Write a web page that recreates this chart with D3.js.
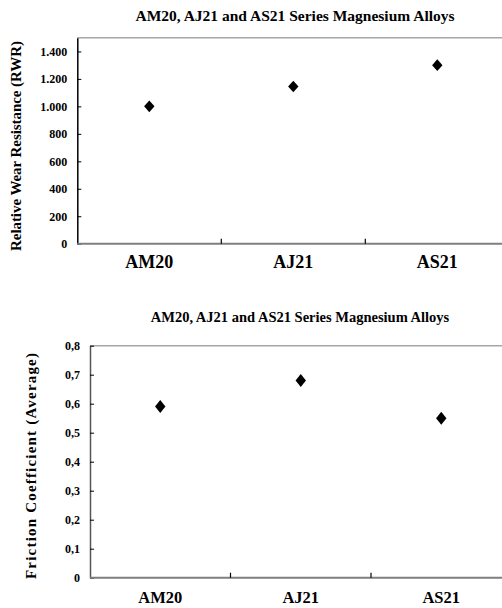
<html lang="en">
<head>
  <meta http-equiv="Content-Type" content="text/html; charset=utf-8" />
  <script src="https://d3js.org/d3.v7.min.js"></script>
  <style>
    body { margin: 0; background: #fff; }
    text { font-family: "Liberation Serif", "Times New Roman", serif; font-weight: bold; fill: #000; }
  </style>
</head>
<body>
  <div id="chart"></div>
  <script>
    'use strict';
    const title = "AM20, AJ21 and AS21 Series Magnesium Alloys";
    const alloys = ["AM20", "AJ21", "AS21"];

    // top chart: relative wear resistance
    const wearValues = [1000, 1145, 1300];
    const wearTicks = [0, 200, 400, 600, 800, 1000, 1200, 1400];
    const wearTickLabels = ["0", "200", "400", "600", "800", "1.000", "1.200", "1.400"];

    // bottom chart: friction coefficient
    const frictionValues = [0.59, 0.68, 0.55];
    const frictionTicks = [0, 0.1, 0.2, 0.3, 0.4, 0.5, 0.6, 0.7, 0.8];
    const frictionTickLabels = ["0", "0,1", "0,2", "0,3", "0,4", "0,5", "0,6", "0,7", "0,8"];

    const svg = d3.select("#chart").append("svg")
      .attr("width", 502).attr("height", 608);

    function drawPanel(cfg) {
      const g = svg.append("g");
      const x = d3.scaleBand().domain(alloys).range([cfg.left, cfg.right]);
      const y = d3.scaleLinear().domain(cfg.domain).range([cfg.bottom, cfg.top]);

      // plot frame top border
      g.append("line").attr("x1", cfg.left).attr("x2", cfg.right)
        .attr("y1", cfg.top).attr("y2", cfg.top)
        .attr("stroke", "#a6a6a6").attr("stroke-width", 1.5);

      // y axis
      const yAxis = g.append("g").attr("transform", `translate(${cfg.left},0)`)
        .call(d3.axisLeft(y).tickValues(cfg.ticks)
          .tickFormat((d, i) => cfg.labels[i]).tickSizeInner(-4).tickSizeOuter(0).tickPadding(10));
      yAxis.select(".domain").attr("stroke", cfg.yAxisColor).attr("stroke-width", 1.5);
      yAxis.selectAll(".tick line").attr("stroke", "#000");
      yAxis.selectAll(".tick text").attr("font-size", cfg.tickFont)
        .attr("font-family", "Liberation Serif").attr("font-weight", "bold").attr("fill", "#000");

      // x axis line + category separators
      g.append("line").attr("x1", cfg.left).attr("x2", cfg.right)
        .attr("y1", cfg.bottom).attr("y2", cfg.bottom)
        .attr("stroke", "#7f7f7f").attr("stroke-width", 2);
      g.selectAll(".sep").data(alloys.slice(1)).join("line")
        .attr("x1", d => x(d)).attr("x2", d => x(d))
        .attr("y1", cfg.bottom).attr("y2", cfg.bottom - 5)
        .attr("stroke", "#000").attr("stroke-width", 1.2);

      g.selectAll(".xl").data(alloys).join("text")
        .attr("x", d => x(d) + x.bandwidth() / 2).attr("y", cfg.xLabelY)
        .attr("text-anchor", "middle").attr("dominant-baseline", "middle")
        .attr("font-size", cfg.xFont).text(d => d);

      // markers
      g.selectAll(".pt").data(cfg.values).join("path")
        .attr("d", `M0,${-cfg.mh} L5.2,0 L0,${cfg.mh} L-5.2,0 Z`)
        .attr("transform", (d, i) => `translate(${x(alloys[i]) + x.bandwidth() / 2},${y(d)})`)
        .attr("fill", "#000");

      // title
      g.append("text").attr("x", cfg.titleX).attr("y", cfg.titleY)
        .attr("text-anchor", "middle").attr("dominant-baseline", "middle")
        .attr("font-size", cfg.titleFont).text(title);

      // y title
      const yt = g.append("text")
        .attr("transform", `translate(${cfg.yTitleX},${cfg.yTitleY}) rotate(-90)`)
        .attr("text-anchor", "middle").attr("dominant-baseline", "middle")
        .attr("font-size", cfg.yTitleFont).text(cfg.yTitle);
      if (cfg.yTitleLen) yt.attr("textLength", cfg.yTitleLen).attr("lengthAdjust", "spacing");
    }

    drawPanel({
      left: 77.3, right: 509.3, top: 37.7, bottom: 243.7,
      domain: [0, 1500], ticks: wearTicks, labels: wearTickLabels, values: wearValues,
      yAxisColor: "#000", tickFont: 12, xFont: 18, xLabelY: 264, mh: 5.8,
      titleX: 295, titleY: 17, titleFont: 15.5,
      yTitle: "Relative Wear Resistance (RWR)", yTitleX: 18, yTitleY: 146, yTitleLen: 210, yTitleFont: 15
    });

    drawPanel({
      left: 90, right: 511.5, top: 345.7, bottom: 577.7,
      domain: [0, 0.8], ticks: frictionTicks, labels: frictionTickLabels, values: frictionValues,
      yAxisColor: "#555", tickFont: 12, xFont: 16.5, xLabelY: 599, mh: 6.5,
      titleX: 300, titleY: 319, titleFont: 14.5,
      yTitle: "Friction Coefficient (Average)", yTitleX: 33, yTitleY: 466, yTitleLen: 226, yTitleFont: 15
    });
  </script>
</body>
</html>
